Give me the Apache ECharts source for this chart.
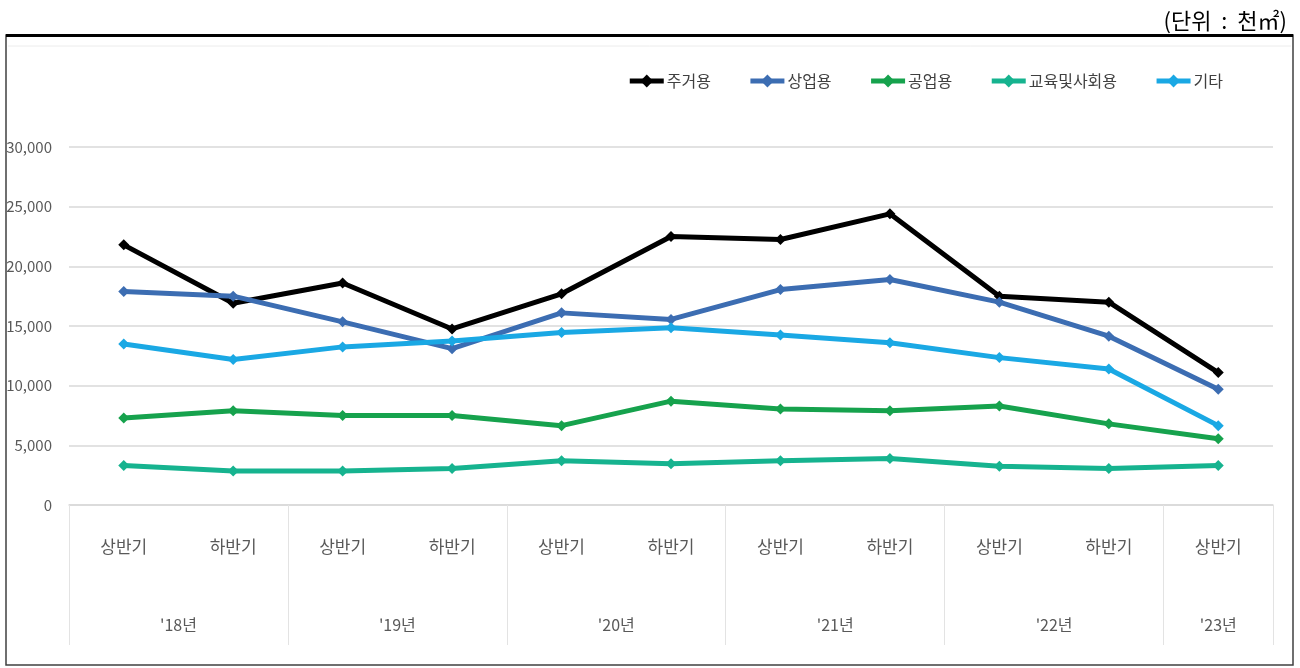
<!DOCTYPE html>
<html>
<head>
<meta charset="utf-8">
<script src="https://cdn.jsdelivr.net/npm/echarts@6/dist/echarts.min.js"></script>
<style>
    html, body { margin: 0; padding: 0; background: #fff; }
    #chart { width: 1300px; height: 668px; }
</style>
</head>
<body>
<div id="chart"></div>
<script>
// 반기 구분 / 연도
var halves = ['상반기', '하반기', '상반기', '하반기', '상반기', '하반기', '상반기', '하반기', '상반기', '하반기', '상반기'];
var years = ["'18년", "'19년", "'20년", "'21년", "'22년", "'23년"];

// 용도별 값 (천㎡)
var seriesNames = ['주거용', '상업용', '공업용', '교육및사회용', '기타'];
var residential = [21800, 16900, 18600, 14750, 17700, 22500, 22250, 24400, 17500, 17000, 11100];
var commercial = [17900, 17500, 15350, 13100, 16100, 15550, 18050, 18900, 17000, 14150, 9700];
var industrial = [7300, 7900, 7500, 7500, 6650, 8700, 8050, 7900, 8300, 6800, 5550];
var education = [3300, 2850, 2850, 3050, 3700, 3450, 3700, 3900, 3250, 3050, 3300];
var others = [13500, 12200, 13250, 13750, 14450, 14850, 14250, 13600, 12350, 11400, 6650];

var colors = ['#000000', '#3c6db2', '#16a24d', '#16b38f', '#1aa8e4'];
var font = '"Noto Sans CJK KR", "Noto Sans", sans-serif';

// 연도 라벨 축 (반 칸 단위, 각 연도 가운데에 라벨)
var yearSlots = [];
var yearPos = [2, 6, 10, 14, 18, 21];
for (var i = 0; i <= 22; i++) {
    var k = yearPos.indexOf(i);
    yearSlots.push(k >= 0 ? years[k] : '');
}

var oChart = echarts.init(document.getElementById('chart'));

function makeSeries(name, data, color) {
    return {
        name: name,
        type: 'line',
        data: data,
        xAxisIndex: 0,
        symbol: 'diamond',
        symbolSize: 11,
        lineStyle: { width: 5, color: color },
        itemStyle: { color: color },
        emphasis: { disabled: true }
    };
}

var option = {
    animation: false,
    color: colors,
    title: {
        text: '(단위  :  천㎡)',
        right: 8,
        top: 5,
        textStyle: { fontFamily: font, fontSize: 22, fontWeight: 'normal', color: '#000' }
    },
    legend: {
        data: seriesNames,
        right: 72,
        top: 68,
        itemGap: 37,
        itemWidth: 34,
        itemHeight: 16,
        lineStyle: { width: 5 },
        textStyle: { fontFamily: font, fontSize: 16, color: '#404040', padding: [0, 0, 0, -2] }
    },
    grid: {
        left: 69,
        right: 27,
        top: 147,
        bottom: 163
    },
    xAxis: [{
        type: 'category',
        data: halves,
        boundaryGap: true,
        axisLine: { lineStyle: { color: '#d9d9d9', width: 1.5 } },
        axisTick: {
            show: true,
            length: 140,
            interval: function (index) { return index % 2 === 0; },
            lineStyle: { color: '#e3e3e3', width: 1 }
        },
        axisLabel: {
            interval: 0,
            margin: 33,
            fontFamily: font,
            fontSize: 17,
            color: '#595959'
        }
    }, {
        type: 'category',
        position: 'bottom',
        data: yearSlots,
        boundaryGap: false,
        axisLine: { show: false },
        axisTick: { show: false },
        axisLabel: {
            interval: 0,
            margin: 112,
            fontFamily: font,
            fontSize: 16,
            color: '#595959'
        }
    }],
    yAxis: {
        type: 'value',
        min: 0,
        max: 30000,
        interval: 5000,
        axisLine: { show: false },
        axisTick: { show: false },
        splitLine: { lineStyle: { color: '#d9d9d9', width: 1.5 } },
        axisLabel: {
            margin: 17,
            fontFamily: font,
            fontSize: 15,
            color: '#595959',
            formatter: function (v) { return v.toLocaleString('en-US'); }
        }
    },
    graphic: [{
        type: 'rect',
        shape: { x: 6, y: 35, width: 1287, height: 630 },
        style: { fill: 'none', stroke: '#404040', lineWidth: 1.5 },
        silent: true
    }, {
        type: 'line',
        shape: { x1: 6, y1: 35.5, x2: 1293, y2: 35.5 },
        style: { stroke: '#000', lineWidth: 3 },
        silent: true
    }, {
        type: 'line',
        shape: { x1: 8, y1: 46, x2: 1291, y2: 46 },
        style: { stroke: '#ececec', lineWidth: 1 },
        silent: true
    }],
    series: [
        makeSeries(seriesNames[0], residential, colors[0]),
        makeSeries(seriesNames[1], commercial, colors[1]),
        makeSeries(seriesNames[2], industrial, colors[2]),
        makeSeries(seriesNames[3], education, colors[3]),
        makeSeries(seriesNames[4], others, colors[4])
    ]
};

oChart.setOption(option);
</script>
</body>
</html>
